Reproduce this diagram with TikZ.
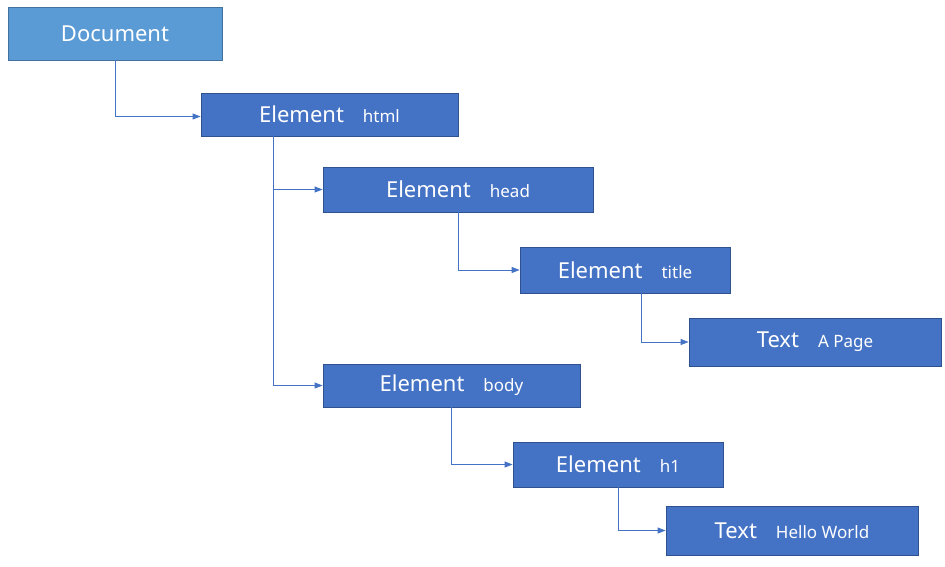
\documentclass[tikz,border=0pt]{standalone}
\usepackage{fontspec}
\setmainfont{Noto Sans}
\usetikzlibrary{arrows.meta}
\definecolor{docfill}{HTML}{5B9BD5}
\definecolor{docline}{HTML}{41719C}
\definecolor{elfill}{HTML}{4472C4}
\definecolor{elline}{HTML}{2F528F}
\tikzset{
  box/.style={draw=elline, fill=elfill, line width=0.8pt, inner sep=0pt, text=white, font=\fontsize{22}{24}\selectfont},
  docbox/.style={box, draw=docline, fill=docfill},
  conn/.style={draw=elfill, line width=0.9pt, -{Triangle[length=8pt,width=6pt]}},
}
\newcommand{\lbl}[2]{\raisebox{-1.5pt}{#1\hspace{19pt}{\fontsize{17}{18}\selectfont #2}}}
\begin{document}
\begin{tikzpicture}[x=1pt,y=-1pt]
\useasboundingbox (0,0) rectangle (945,566);
\node[docbox, minimum width=214pt, minimum height=53pt] (doc) at (115,33.5) {\raisebox{-1.5pt}{Document}};
\node[box, minimum width=257pt, minimum height=43pt] (html) at (329.5,114.5) {\lbl{Element}{html}};
\node[box, minimum width=270pt, minimum height=45pt] (head) at (458,189.5) {\lbl{Element}{head}};
\node[box, minimum width=210pt, minimum height=46pt] (title) at (625,270) {\lbl{Element}{title}};
\node[box, minimum width=252pt, minimum height=48pt] (texta) at (815,342) {\lbl{Text}{A Page}};
\node[box, minimum width=257pt, minimum height=43pt] (body) at (451.5,385.5) {\lbl{Element}{body}};
\node[box, minimum width=210pt, minimum height=45pt] (h1) at (618,464.5) {\lbl{Element}{h1}};
\node[box, minimum width=252pt, minimum height=49pt] (textb) at (792,530.5) {\lbl{Text}{Hello World}};
\coordinate (htmlx) at (273,0);
\coordinate (titlex) at (641,0);
\draw[conn] (doc.south) |- ([yshift=-2pt]html.west);
\draw[conn] (html.south -| htmlx) |- (head.west);
\draw[conn] (html.south -| htmlx) |- (body.west);
\draw[conn] (head.south) |- (title.west);
\draw[conn] (title.south -| titlex) |- (texta.west);
\draw[conn] (body.south) |- (h1.west);
\draw[conn] (h1.south) |- (textb.west);
\end{tikzpicture}
\end{document}
